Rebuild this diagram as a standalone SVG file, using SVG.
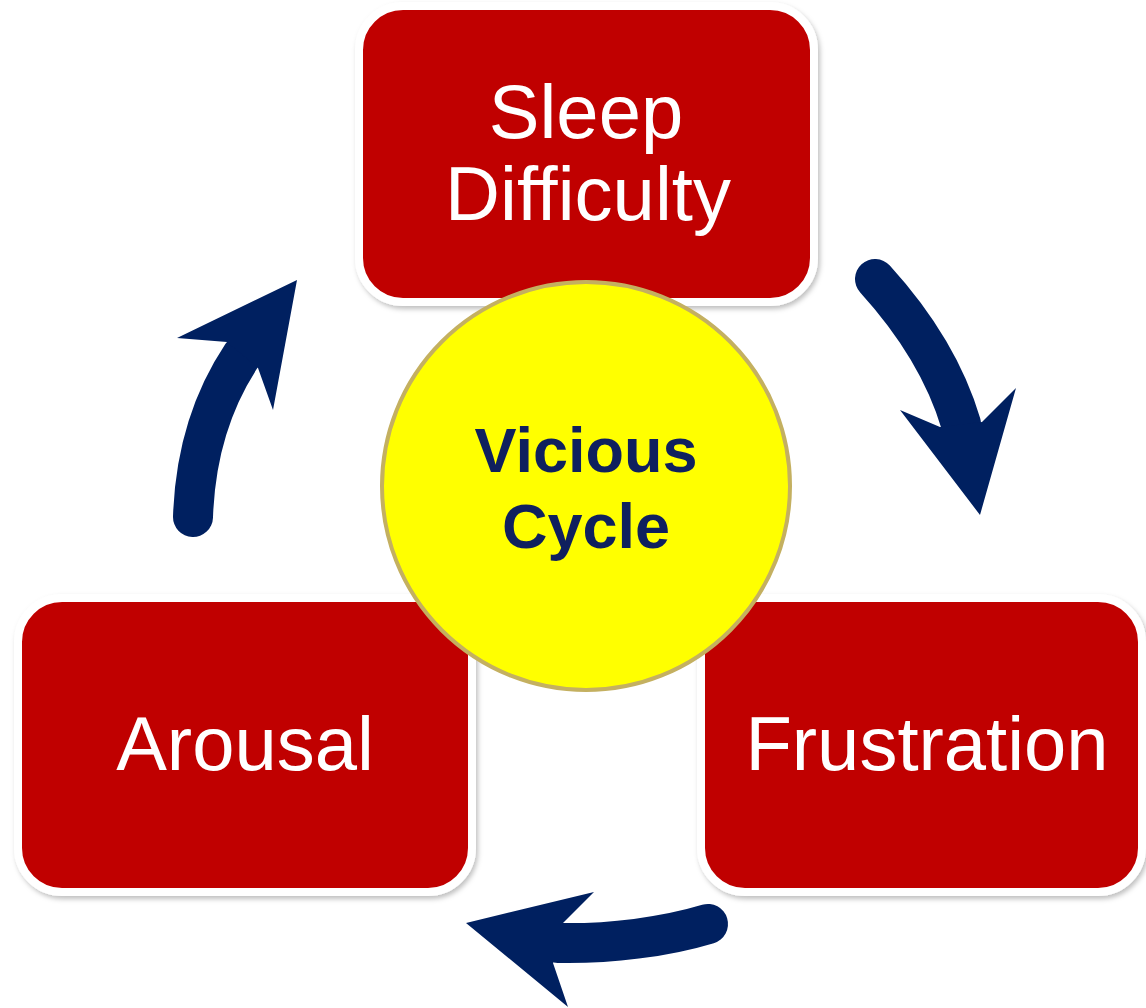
<svg xmlns="http://www.w3.org/2000/svg" width="1146" height="1008" viewBox="0 0 1146 1008">
<defs>
<filter id="sh" x="-10%" y="-10%" width="120%" height="120%">
<feDropShadow dx="2" dy="3" stdDeviation="2.5" flood-color="#000" flood-opacity="0.25"/>
</filter>
<style>
.box{fill:#c00000;stroke:#fff;stroke-width:8;filter:url(#sh)}
.lbl{font-family:"Liberation Sans",Arial,sans-serif;font-size:76px;fill:#fff;text-anchor:middle}
.ctr{font-family:"Liberation Sans",Arial,sans-serif;font-size:63px;font-weight:bold;fill:#0f205e;text-anchor:middle}
.shaft{fill:none;stroke:#002060;stroke-width:40;stroke-linecap:round}
.head{fill:#002060}
</style>
</defs>
<rect width="1146" height="1008" fill="#fff"/>
<g id="sleep-difficulty">
<rect class="box" x="359" y="6" width="455" height="296" rx="44"/>
<text class="lbl" x="586" y="138">Sleep</text>
<text class="lbl" x="588" y="220">Difficulty</text>
</g>
<g id="arousal">
<rect class="box" x="18" y="598" width="454" height="294" rx="44"/>
<text class="lbl" x="245" y="770">Arousal</text>
</g>
<g id="frustration">
<rect class="box" x="701" y="598" width="441" height="294" rx="44"/>
<text class="lbl" x="927" y="770">Frustration</text>
</g>
<g id="connectors">
<path class="shaft" d="M 193 517 C 195 455 212 400 242 355"/>
<path class="head" d="M 227 342 L 177 338 L 297 280 L 273 410 L 258 368 Z"/>
<path class="shaft" d="M 875 279 C 915 323 945 370 961 424"/>
<path class="head" d="M 940 427 L 900 410 L 980 515 L 1016 388 L 982 422 Z"/>
<path class="shaft" d="M 708 924 C 665 937 610 944 558 943"/>
<path class="head" d="M 563 923 L 594 892 L 466 923 L 568 1007 L 553 963 Z"/>
</g>
<g id="vicious-cycle">
<circle cx="586" cy="486" r="204" fill="#ffff00" stroke="#c4b060" stroke-width="4"/>
<text class="ctr" x="586" y="472">Vicious</text>
<text class="ctr" x="586" y="548">Cycle</text>
</g>
</svg>
